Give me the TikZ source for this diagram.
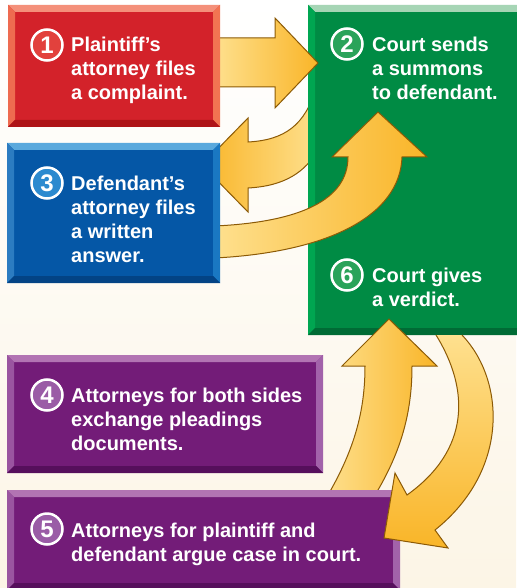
\documentclass[tikz,border=0pt]{standalone}
\usepackage{fontspec}
\setmainfont{Liberation Sans}
% couleurs des boites
\definecolor{rougeF}{HTML}{D3222A}\definecolor{rougeH}{HTML}{F4907A}\definecolor{rougeG}{HTML}{EE6B50}
\definecolor{rougeD}{HTML}{F27452}\definecolor{rougeB}{HTML}{AE1419}\definecolor{rougeN}{HTML}{E2413D}
\definecolor{vertF}{HTML}{008B44}\definecolor{vertH}{HTML}{A6D5B5}\definecolor{vertG}{HTML}{00A651}
\definecolor{vertD}{HTML}{00A651}\definecolor{vertB}{HTML}{006B35}\definecolor{vertN}{HTML}{2AA35A}
\definecolor{bleuF}{HTML}{0557A6}\definecolor{bleuH}{HTML}{5AA9DD}\definecolor{bleuG}{HTML}{2C7CC1}
\definecolor{bleuD}{HTML}{1A78C2}\definecolor{bleuB}{HTML}{034385}\definecolor{bleuN}{HTML}{2C8ACF}
\definecolor{violetF}{HTML}{731C78}\definecolor{violetH}{HTML}{B274B3}\definecolor{violetG}{HTML}{9A55A0}
\definecolor{violetD}{HTML}{A262AA}\definecolor{violetB}{HTML}{560F5C}\definecolor{violetN}{HTML}{9A5CA6}
% couleurs des fleches
\definecolor{flecheC}{HTML}{FEE08E}\definecolor{flecheF}{HTML}{F9B528}\definecolor{flecheB}{HTML}{8C5A06}
\definecolor{fond}{HTML}{FCF5E6}
\tikzset{
  numero/.style={circle, draw=white, line width=2.5pt, minimum size=31pt, inner sep=0pt,
    text=white, font=\fontsize{24}{24}\selectfont\bfseries},
  texte/.style={anchor=base west, align=left, inner sep=0pt, text=white,
    font=\fontsize{20}{24}\selectfont\bfseries},
  fleche/.style={draw=flecheB, line width=1pt, line join=miter},
}
% boite en relief : x1 y1 x2 y2 couleur
\newcommand{\boite}[5]{%
  \fill[#5F] (#1,#2) rectangle (#3,#4);
  \fill[#5H] (#1,#2) -- (#3,#2) -- ({#3-7},{#2+7}) -- ({#1+7},{#2+7}) -- cycle;
  \fill[#5G] (#1,#2) -- ({#1+7},{#2+7}) -- ({#1+7},{#4-7}) -- (#1,#4) -- cycle;
  \fill[#5D] (#3,#2) -- ({#3-7},{#2+7}) -- ({#3-7},{#4-7}) -- (#3,#4) -- cycle;
  \fill[#5B] (#1,#4) -- ({#1+7},{#4-7}) -- ({#3-7},{#4-7}) -- (#3,#4) -- cycle;
}
\begin{document}
\begin{tikzpicture}[x=1pt,y=-1pt]
	\useasboundingbox (0,0) rectangle (516,588);
	% le fond
	\shade[top color=white, bottom color=fond] (0,0) rectangle (516,588);
	% fleche 2 -> 3, sous la boite verte
	\draw[fleche, left color=flecheF, right color=flecheC] (316,88) .. controls (305,125) and (285,140) .. (248,142)
		-- (248,118) -- (202,165) -- (248,212) -- (248,188) .. controls (285,186) and (305,172) .. (318,150) -- cycle;
	\boite{308}{5}{524}{335}{vert}
	% fleche 1 -> 2
	\draw[fleche, left color=flecheC, right color=flecheF] (215,38) -- (275,38) -- (275,18) -- (318,63)
		-- (275,108) -- (275,87) -- (215,87) -- cycle;
	% fleche 3 -> 2
	\draw[fleche, left color=flecheC, right color=flecheF] (215,226) .. controls (300,222) and (348,200) .. (348,157)
		-- (332,157) -- (378,112) -- (427,157) -- (402,157) .. controls (400,215) and (330,252) .. (215,258) -- cycle;
	% fleche 5 -> 6
	\draw[fleche, left color=flecheC, right color=flecheF] (325,500) .. controls (355,450) and (365,410) .. (365,366)
		-- (342,366) -- (389,319) -- (437,366) -- (412,366) .. controls (412,415) and (400,455) .. (372,500) -- cycle;
	% les boites
	\boite{8}{5}{220}{127}{rouge}
	\boite{7}{143}{220}{283}{bleu}
	\boite{7}{355}{323}{473}{violet}
	\boite{7}{490}{400}{590}{violet}
	% fleche 6 -> 5
	\shade[top color=flecheC, bottom color=flecheF] (436,335) .. controls (470,390) and (470,450) .. (407,495)
		-- (395,473) -- (384,538) -- (448,548) -- (435,530) .. controls (510,470) and (505,380) .. (462,335) -- cycle;
	\draw[fleche] (436,335) .. controls (470,390) and (470,450) .. (407,495)
		-- (395,473) -- (384,538) -- (448,548) -- (435,530) .. controls (510,470) and (505,380) .. (462,335);
	% les numeros et les textes (ancre sur la derniere ligne)
	\node[numero, fill=rougeN] (n1) at (47,45) {1};
	\node[texte] (t1) at (71,100) {Plaintiff’s\\attorney files\\a complaint.};
	\node[numero, fill=vertN] (n2) at (347,44) {2};
	\node[texte] (t2) at (372,100) {Court sends\\a summons\\to defendant.};
	\node[numero, fill=bleuN] (n3) at (47,183) {3};
	\node[texte] (t3) at (71,262) {Defendant’s\\attorney files\\a written\\answer.};
	\node[numero, fill=violetN] (n4) at (47,395) {4};
	\node[texte] (t4) at (71,450) {Attorneys for both sides\\exchange pleadings\\documents.};
	\node[numero, fill=violetN] (n5) at (47,529) {5};
	\node[texte] (t5) at (71,561) {Attorneys for plaintiff and\\defendant argue case in court.};
	\node[numero, fill=vertN] (n6) at (347,275) {6};
	\node[texte] (t6) at (372,306) {Court gives\\a verdict.};
\end{tikzpicture}
\end{document}
